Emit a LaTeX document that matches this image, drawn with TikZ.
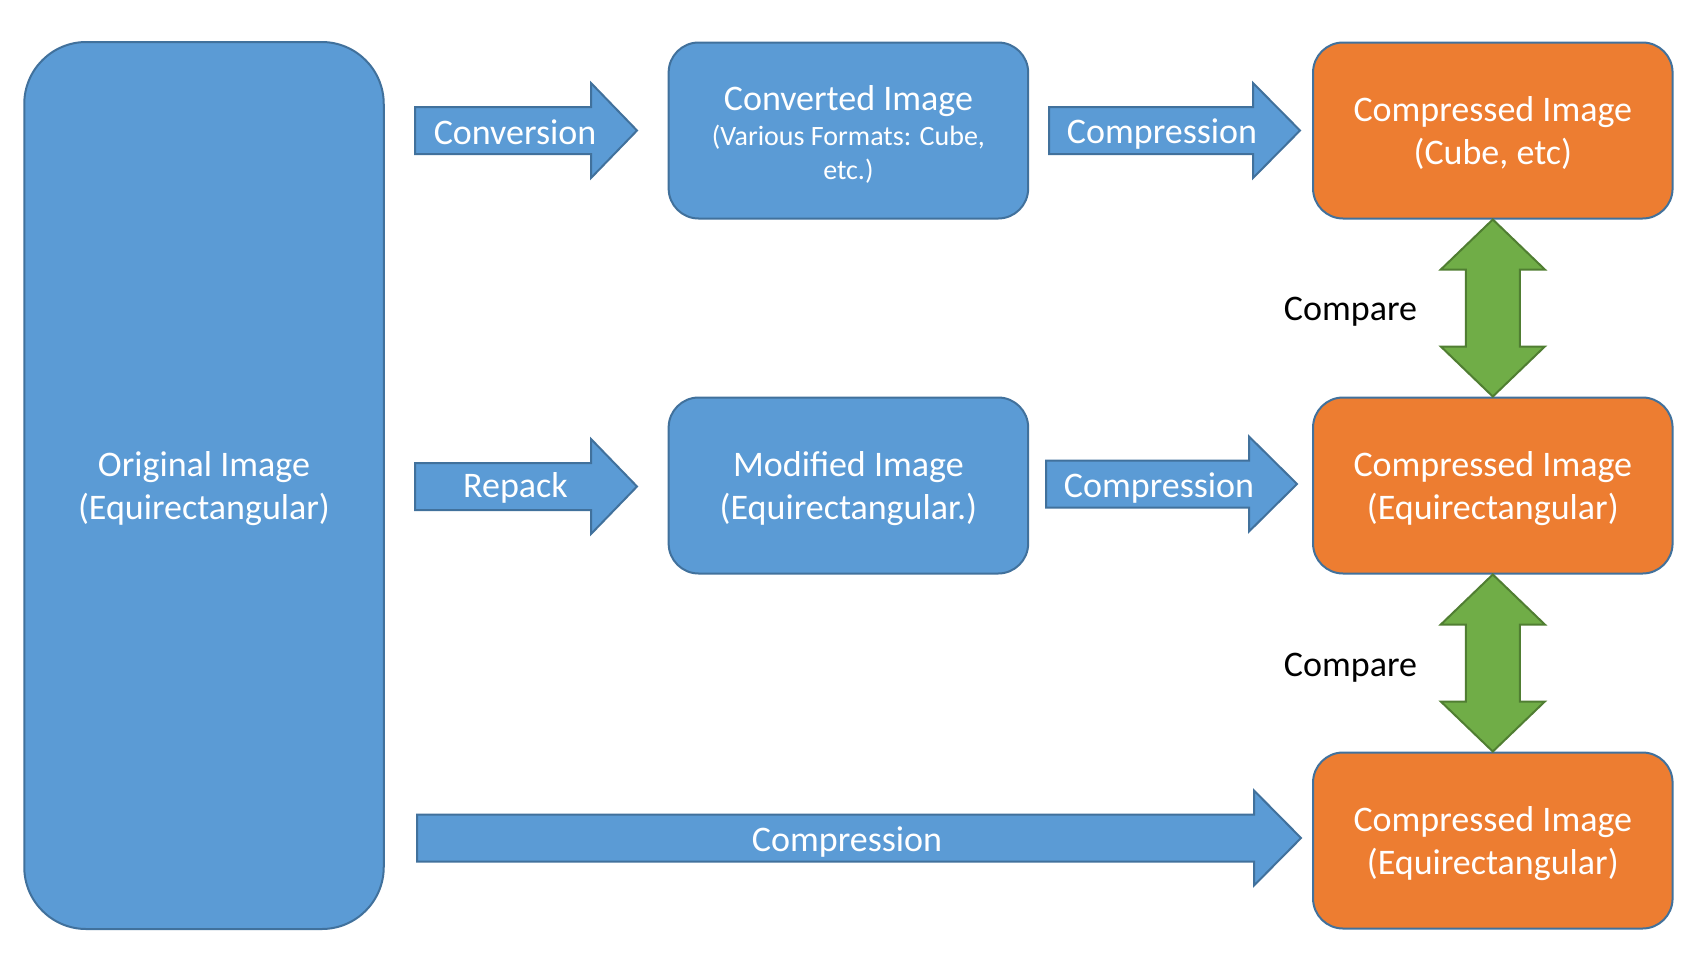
\documentclass[tikz,border=0pt]{standalone}
\usepackage{fontspec}
\setmainfont{Carlito}
\usetikzlibrary{calc}
\definecolor{boxblue}{HTML}{5B9BD5}
\definecolor{edgeblue}{HTML}{41719C}
\definecolor{boxorange}{HTML}{ED7D31}
\definecolor{boxgreen}{HTML}{70AD47}
\definecolor{edgegreen}{HTML}{507E32}
\tikzset{
  base/.style={draw=edgeblue, line width=2pt, text=white, align=center,
    font=\fontsize{36}{43}\selectfont, inner sep=0pt},
  bluebox/.style={base, fill=boxblue, rounded corners=30pt,
    minimum width=359.5pt, minimum height=176pt},
  orangebox/.style={base, fill=boxorange, rounded corners=30pt,
    minimum width=359.5pt, minimum height=176pt},
  bigbox/.style={base, fill=boxblue, rounded corners=62pt,
    minimum width=359.5pt, minimum height=887pt},
  blockarrow/.style={draw=edgeblue, line width=2pt, fill=boxblue, line join=miter},
  greenarrow/.style={draw=edgegreen, line width=2pt, fill=boxgreen, line join=miter},
  arrowlabel/.style={text=white, font=\fontsize{36}{43}\selectfont, inner sep=0pt},
  comparelabel/.style={text=black, font=\fontsize{36}{43}\selectfont, inner sep=0pt}
}
\newcommand{\boxtext}[2][3.6pt]{\raisebox{-#1}[\height][\depth]{\begin{tabular}{@{}c@{}}#2\end{tabular}}}
\newcommand{\harrow}[4]{%
  \draw[blockarrow] (#1,{#4-23.5}) -- (#2,{#4-23.5}) -- (#2,{#4-47.5}) -- (#3,#4)
    -- (#2,{#4+47.5}) -- (#2,{#4+23.5}) -- (#1,{#4+23.5}) -- cycle;}
\newcommand{\varrow}[2]{%
  \draw[greenarrow] (#1) -- ($(#1)+(52,50)$) -- ($(#1)+(27,50)$) -- ($(#2)+(27,-50)$)
    -- ($(#2)+(52,-50)$) -- (#2) -- ($(#2)+(-52,-50)$) -- ($(#2)+(-27,-50)$)
    -- ($(#1)+(-27,50)$) -- ($(#1)+(-52,50)$) -- cycle;}
\begin{document}
\begin{tikzpicture}[x=1pt, y=-1pt]
\useasboundingbox (0,0) rectangle (1704,970);
\fill[white] (0,0) rectangle (1704,970);

% boxes
\node[bigbox] (orig) at (204,485.5) {\boxtext{Original Image\\(Equirectangular)}};
\node[bluebox] (conv) at (848.4,130.5) {\raisebox{-6.6pt}[\height][\depth]{\fontsize{28}{34}\selectfont\begin{tabular}{@{}c@{}}{\fontsize{36}{43}\selectfont Converted Image}\\[1pt](Various Formats: Cube,\\etc.)\end{tabular}}};
\node[bluebox] (mod) at (848.4,485.5) {\boxtext{Modified Image\\(Equirectangular.)}};
\node[orangebox] (c1) at (1492.8,130.5) {\boxtext{Compressed Image\\(Cube, etc)}};
\node[orangebox] (c2) at (1492.8,485.5) {\boxtext{Compressed Image\\(Equirectangular)}};
\node[orangebox] (c3) at (1492.8,840.5) {\boxtext{Compressed Image\\(Equirectangular)}};

% block arrows
\harrow{415}{591}{637}{130.5}
\node[arrowlabel] (lconv) at (515,132) {Conversion};
\harrow{1049}{1253}{1300}{130.5}
\node[arrowlabel] (lcomp1) at (1162,134.2) {Compression};
\harrow{415}{591}{637}{486.5}
\node[arrowlabel] (lrep) at (515.5,488) {Repack};
\harrow{1046}{1249}{1297}{484}
\node[arrowlabel] (lcomp2) at (1159,488.2) {Compression};
\harrow{417}{1254}{1301}{838}
\node[arrowlabel] (lcomp3) at (847,841.5) {Compression};

% compare arrows
\varrow{c1.south}{c2.north}
\varrow{c2.south}{c3.north}
\node[comparelabel] (cmp1) at (1350.5,312) {Compare};
\node[comparelabel] (cmp2) at (1350.5,668) {Compare};
\end{tikzpicture}
\end{document}
